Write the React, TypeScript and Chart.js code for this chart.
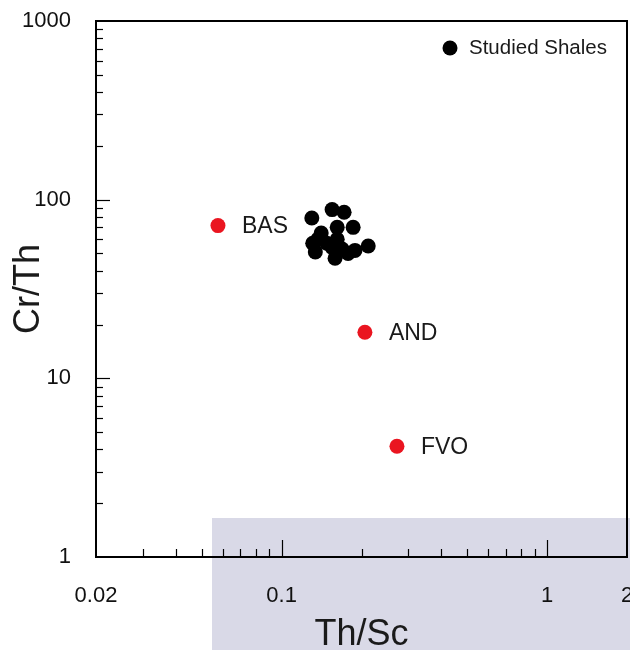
import React, { useEffect, useRef } from "react";
import { Chart, registerables } from "chart.js";

Chart.register(...registerables);

// Studied shales (Th/Sc, Cr/Th)
const shaleThSc = [0.130, 0.155, 0.172, 0.186, 0.162, 0.141, 0.131, 0.134, 0.148, 0.162, 0.169, 0.159, 0.189, 0.212, 0.155, 0.178, 0.137];
const shaleCrTh = [79, 88, 85, 70, 70, 65, 57, 51, 57, 60, 53, 47, 52, 55, 54, 50, 60];

// Reference compositions
const refLabels = ["BAS", "AND", "FVO"];
const refThSc = [0.0576, 0.206, 0.272];
const refCrTh = [71.6, 18.1, 4.17];

// Axis ticks
const xTickValues = [0.02, 0.1, 1, 2];
const yTickValues = [1, 10, 100, 1000];
const xMajorMarks = [0.1, 1];
const xMinorMarks = [0.03, 0.04, 0.05, 0.06, 0.07, 0.08, 0.09, 0.2, 0.3, 0.4, 0.5, 0.6, 0.7, 0.8, 0.9];
const yMajorMarks = [10, 100];
const yMinorMarks = [2, 3, 4, 5, 6, 7, 8, 9, 20, 30, 40, 50, 60, 70, 80, 90, 200, 300, 400, 500, 600, 700, 800, 900];

const FONT = "'Liberation Sans', Arial, Helvetica, sans-serif";

const backgroundPlugin = {
  id: "bgWatermark",
  beforeDraw(chart: any) {
    const ctx = chart.ctx;
    ctx.save();
    ctx.fillStyle = "#ffffff";
    ctx.fillRect(0, 0, chart.width, chart.height);
    ctx.fillStyle = "#d9d9e7";
    ctx.fillRect(212, 518, chart.width - 212, chart.height - 518);
    ctx.restore();
  },
};

const framePlugin = {
  id: "frameTicks",
  beforeDatasetsDraw(chart: any) {
    const ctx = chart.ctx;
    const { left, right, top, bottom } = chart.chartArea;
    const xs = chart.scales.x;
    const ys = chart.scales.y;
    ctx.save();
    ctx.strokeStyle = "#000";
    ctx.lineWidth = 1.2;
    const xMark = (v: number, len: number) => {
      const px = Math.round(xs.getPixelForValue(v)) + 0.5;
      ctx.beginPath();
      ctx.moveTo(px, bottom);
      ctx.lineTo(px, bottom - len);
      ctx.stroke();
    };
    const yMark = (v: number, len: number) => {
      const py = Math.round(ys.getPixelForValue(v)) + 0.5;
      ctx.beginPath();
      ctx.moveTo(left, py);
      ctx.lineTo(left + len, py);
      ctx.stroke();
    };
    xMinorMarks.forEach((v) => xMark(v, 8));
    xMajorMarks.forEach((v) => xMark(v, 17));
    yMinorMarks.forEach((v) => yMark(v, 7));
    yMajorMarks.forEach((v) => yMark(v, 14));
    ctx.lineWidth = 2;
    ctx.strokeRect(left, top, right - left, bottom - top);
    ctx.restore();
  },
};

const labelPlugin = {
  id: "refLabels",
  afterDatasetsDraw(chart: any) {
    const meta = chart.getDatasetMeta(1);
    const ctx = chart.ctx;
    ctx.save();
    ctx.font = `23px ${FONT}`;
    ctx.fillStyle = "#1a1a1a";
    ctx.textAlign = "left";
    ctx.textBaseline = "middle";
    meta.data.forEach((el: any, i: number) => {
      ctx.fillText(refLabels[i], el.x + 24, el.y + 1);
    });
    // legend for the studied shales, inside the plot at top right
    const ds = chart.data.datasets[0];
    const { right, top } = chart.chartArea;
    const lx = right - 177;
    const ly = top + 27;
    ctx.fillStyle = ds.backgroundColor;
    ctx.beginPath();
    ctx.arc(lx, ly, 7.5, 0, Math.PI * 2);
    ctx.fill();
    ctx.font = `20.5px ${FONT}`;
    ctx.fillStyle = "#1a1a1a";
    ctx.fillText(ds.label, lx + 19, ly);
    ctx.restore();
  },
};

const zeroPad = (scale: any) => {
  scale.paddingLeft = 0;
  scale.paddingRight = 0;
  scale.paddingTop = 0;
  scale.paddingBottom = 0;
};

export default function App() {
  const canvasRef = useRef<HTMLCanvasElement | null>(null);

  useEffect(() => {
    if (!canvasRef.current) return;
    const chart = new Chart(canvasRef.current, {
      type: "scatter",
      data: {
        datasets: [
          {
            label: "Studied Shales",
            data: shaleThSc.map((x, i) => ({ x, y: shaleCrTh[i] })),
            backgroundColor: "#000000",
            borderColor: "#000000",
            borderWidth: 0,
            pointRadius: 7.5,
            pointHoverRadius: 7.5,
            pointStyle: "circle",
          },
          {
            label: "Reference",
            data: refThSc.map((x, i) => ({ x, y: refCrTh[i] })),
            backgroundColor: "#ea1520",
            borderColor: "#ea1520",
            borderWidth: 0,
            pointRadius: 7.5,
            pointHoverRadius: 7.5,
            pointStyle: "circle",
          },
        ],
      },
      options: {
        responsive: false,
        animation: false,
        layout: { autoPadding: false, padding: { top: 21, right: 3, left: 0, bottom: 0 } },
        plugins: {
          tooltip: { enabled: false },
          legend: { display: false },
        },
        scales: {
          x: {
            type: "logarithmic",
            min: 0.02,
            max: 2,
            grid: { display: false, drawTicks: false },
            border: { display: false },
            afterBuildTicks: (scale: any) => {
              scale.ticks = xTickValues.map((v) => ({ value: v }));
            },
            afterFit: (scale: any) => {
              scale.height = 93;
              zeroPad(scale);
            },
            ticks: {
              autoSkip: false,
              maxRotation: 0,
              padding: 26,
              color: "#111",
              font: { family: FONT, size: 22 },
              callback: (v: any) => String(v),
            },
            title: {
              display: true,
              text: "Th/Sc",
              color: "#1a1a1a",
              font: { family: FONT, size: 36 },
              padding: { top: 0, bottom: -7 },
            },
          },
          y: {
            type: "logarithmic",
            min: 1,
            max: 1000,
            grid: { display: false, drawTicks: false },
            border: { display: false },
            afterBuildTicks: (scale: any) => {
              scale.ticks = yTickValues.map((v) => ({ value: v }));
            },
            afterFit: (scale: any) => {
              scale.width = 96;
              zeroPad(scale);
            },
            ticks: {
              autoSkip: false,
              padding: 25,
              color: "#111",
              font: { family: FONT, size: 22 },
              callback: (v: any) => String(v),
            },
            title: {
              display: true,
              text: "Cr/Th",
              color: "#1a1a1a",
              font: { family: FONT, size: 36 },
              padding: { top: 7, bottom: 0 },
            },
          },
        },
      },
      plugins: [backgroundPlugin, framePlugin, labelPlugin],
    });
    return () => chart.destroy();
  }, []);

  return (
    <div style={{ position: "absolute", left: 0, top: 0, width: 630, height: 650 }}>
      <canvas ref={canvasRef} width={630} height={650} style={{ display: "block" }} />
    </div>
  );
}
